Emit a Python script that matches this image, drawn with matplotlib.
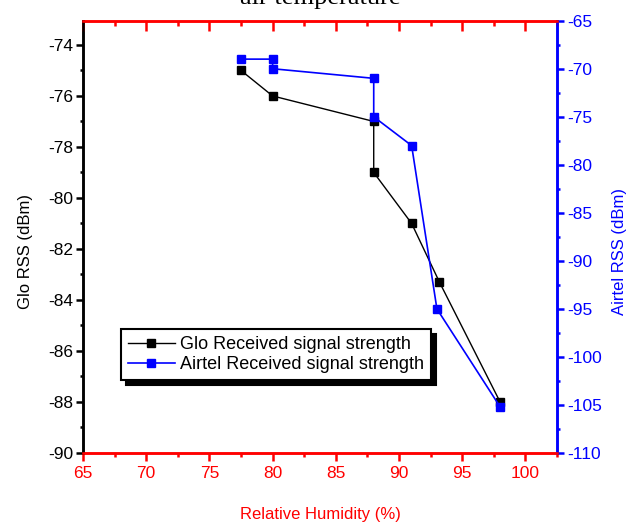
import matplotlib
matplotlib.use("Agg")
import matplotlib.pyplot as plt
from matplotlib.ticker import MultipleLocator

plt.rcParams['font.family'] = ['Liberation Sans', 'DejaVu Sans']
plt.rcParams['axes.unicode_minus'] = False

humidity_glo = [77.5, 80, 88, 88, 91, 93.2, 98]
glo_rss = [-75, -76, -77, -79, -81, -83.3, -88]
humidity_airtel = [77.5, 80, 80, 88, 88, 91, 93, 98]
airtel_rss = [-69, -69, -70, -71, -75, -78, -95, -105.2]

fig = plt.figure(figsize=(6.4, 5.24), dpi=100)
ax = fig.add_axes([83/640, 1-453/524, (557-83)/640, (453-20.7)/524])
ax2 = ax.twinx()

l1, = ax.plot(humidity_glo, glo_rss, color='black', lw=1.0, marker='s', ms=5.5,
              label='Glo Received signal strength')
l2, = ax2.plot(humidity_airtel, airtel_rss, color='blue', lw=1.2, marker='s', ms=5.5,
               label='Airtel Received signal strength')

ax.set_xlim(65, 102.5)
ax.set_ylim(-90, -73.05)
ax2.set_ylim(-110, -65)

ax.xaxis.set_major_locator(MultipleLocator(5))
ax.xaxis.set_minor_locator(MultipleLocator(2.5))
ax.yaxis.set_major_locator(MultipleLocator(2))
ax.yaxis.set_minor_locator(MultipleLocator(1))
ax2.yaxis.set_major_locator(MultipleLocator(5))
ax2.yaxis.set_minor_locator(MultipleLocator(2.5))

for a in (ax, ax2):
    a.spines['bottom'].set_color('red')
    a.spines['top'].set_color('red')
    a.spines['left'].set_color('black')
    a.spines['right'].set_color('blue')
    for s in a.spines.values():
        s.set_linewidth(1.8)

fs = 12.5
ax.tick_params(axis='x', which='both', direction='out', top=False, bottom=True,
               colors='red', width=1.8, labelsize=fs, pad=3.5)
ax.tick_params(axis='x', which='major', length=6)
ax.tick_params(axis='x', which='minor', length=3)
ax.tick_params(axis='y', which='both', direction='out', colors='black', width=1.8,
               labelsize=fs, pad=2)
ax.tick_params(axis='y', which='major', length=5)
ax.tick_params(axis='y', which='minor', length=2)

ax2.xaxis.set_visible(True)
ax2.xaxis.set_ticks_position('top')
ax2.tick_params(axis='x', which='both', direction='in', colors='red', width=1.8,
                labeltop=False, labelbottom=False, bottom=False, top=True)
ax2.tick_params(axis='x', which='major', length=7)
ax2.tick_params(axis='x', which='minor', length=3.5)
ax2.tick_params(axis='y', which='both', direction='out', colors='blue', width=1.8,
                labelsize=fs, pad=2.5)
ax2.tick_params(axis='y', which='major', length=5)
ax2.tick_params(axis='y', which='minor', length=2)

ax.set_xlabel('Relative Humidity (%)', color='red', fontsize=12)
ax.xaxis.set_label_coords(0.5, -0.125)
ax.set_ylabel('Glo RSS (dBm)', color='black', fontsize=12)
ax.yaxis.set_label_coords(-0.105, 0.467)
ax2.set_ylabel('Airtel RSS (dBm)', color='blue', fontsize=12)
ax2.yaxis.set_label_coords(1.116, 0.467)

fig.text(0.5, 1 - 4/524, 'air temperature', ha='center', va='baseline',
         fontsize=19, family='Liberation Serif')

leg = ax2.legend(handles=[l1, l2], loc='upper left', bbox_to_anchor=(0.0795, 0.287),
                 borderaxespad=0, fontsize=13, frameon=True, fancybox=False,
                 edgecolor='black', handlelength=2.6, handletextpad=0.28,
                 borderpad=0.4, labelspacing=0.15,
                 shadow={'ox': 3.5, 'oy': -3.5, 'color': 'black', 'alpha': 1})
leg.get_frame().set_linewidth(1.5)
leg.get_frame().set_alpha(1)

fig.savefig('out.png', dpi=100)
